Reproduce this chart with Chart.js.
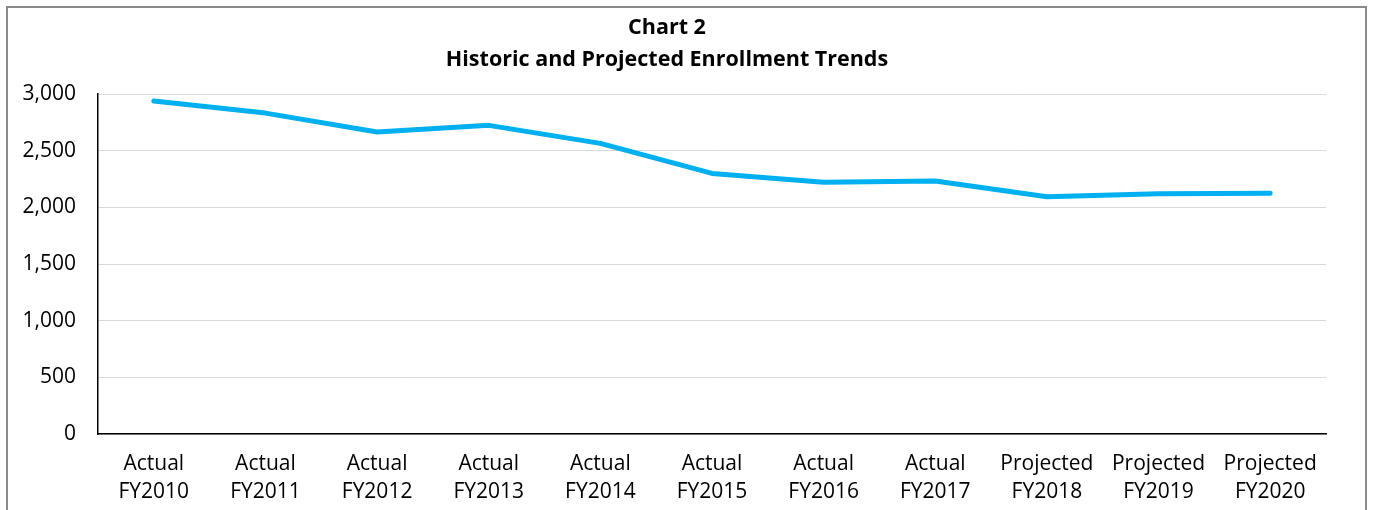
<!DOCTYPE html>
<html>
<head>
<meta charset="utf-8">
<script src="https://cdn.jsdelivr.net/npm/chart.js@4.4.0/dist/chart.umd.min.js"></script>
<style>
    body { margin: 0; background: #fff; }
    .frame {
        position: absolute; left: 6px; top: 6px;
        width: 1357px; height: 520px;
        border: 2px solid #8a8a8a;
        background: #fff;
    }
    .frame canvas { display: block; }
</style>
</head>
<body>
<div class="frame">
    <canvas id="enrollChart" width="1357" height="502"></canvas>
</div>
<script>
const yearLabels = [
    ["Actual", "FY2010"], ["Actual", "FY2011"], ["Actual", "FY2012"],
    ["Actual", "FY2013"], ["Actual", "FY2014"], ["Actual", "FY2015"],
    ["Actual", "FY2016"], ["Actual", "FY2017"], ["Projected", "FY2018"],
    ["Projected", "FY2019"], ["Projected", "FY2020"]
];
const enrollment = [2938, 2832, 2665, 2724, 2565, 2300, 2221, 2232, 2094, 2120, 2124];
const titleLines = ["Chart 2", "Historic and Projected Enrollment Trends"];

const fontFamily = "'Open Sans', sans-serif";

const ctx = document.getElementById("enrollChart").getContext("2d");

new Chart(ctx, {
    type: "line",
    data: {
        labels: yearLabels,
        datasets: [
            {
                label: "Enrollment",
                data: enrollment,
                borderColor: "#00B0F0",
                backgroundColor: "#00B0F0",
                borderWidth: 5,
                borderCapStyle: "round",
                borderJoinStyle: "round",
                pointRadius: 0,
                tension: 0,
            },
        ],
    },
    options: {
        responsive: false,
        animation: false,
        layout: { padding: { left: 0, right: 39, top: 0, bottom: 0 } },
        plugins: {
            legend: { display: false },
            tooltip: { enabled: false },
            title: {
                display: true,
                text: titleLines,
                color: "#000",
                font: { family: fontFamily, size: 21.5, weight: "bold", lineHeight: 1.49 },
                padding: { top: 4, bottom: 18 },
            },
        },
        scales: {
            x: {
                type: "category",
                offset: true,
                grid: { display: false, drawTicks: false },
                border: { display: true, color: "#000", width: 1.5 },
                ticks: {
                    color: "#000",
                    padding: 16,
                    maxRotation: 0,
                    autoSkip: false,
                    font: { family: fontFamily, size: 21, lineHeight: 1.33 },
                },
                afterFit: (scale) => { scale.height = 76; },
            },
            y: {
                min: 0,
                max: 3000,
                grid: { color: "#d9d9d9", lineWidth: 1, drawTicks: false },
                border: { display: true, color: "#000", width: 1.5 },
                ticks: {
                    stepSize: 500,
                    color: "#000",
                    padding: 22,
                    font: { family: fontFamily, size: 21 },
                    callback: (v) => v.toLocaleString("en-US"),
                },
                afterFit: (scale) => { scale.width = 90; },
            },
        },
    },
});
</script>
</body>
</html>
